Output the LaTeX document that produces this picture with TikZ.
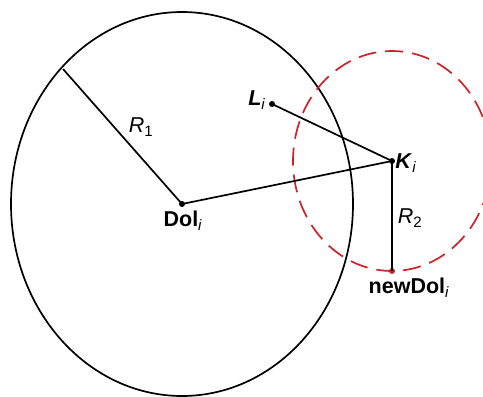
\documentclass[tikz,border=0pt]{standalone}
\usepackage{fontspec}
\setmainfont{Liberation Sans}
\definecolor{dashred}{RGB}{205,35,40}
\begin{document}
\begin{tikzpicture}[x=1pt,y=-1pt,
  ln/.style={line width=1.7pt,black},
  dot/.style={circle,fill=black,inner sep=0pt,minimum size=6pt},
  lbl/.style={inner sep=0pt,font=\fontsize{21.5}{24}\selectfont},
  reddash/.style={line width=1.7pt,draw=dashred,dash pattern=on 18pt off 9pt}]
\useasboundingbox (0,0) rectangle (483,397);
\clip (0,0) rectangle (483,397);
% points
\node[dot] (dol) at (182,204) {};
\node[dot] (k) at (392,161) {};
\node[dot] (l) at (272,104) {};
\node[dot,fill=dashred] (nd) at (392,271) {};
\coordinate (r1end) at (63,69);
% circles
\draw[ln] (dol.center) ellipse [x radius=171, y radius=192];
\draw[reddash] (k.center) ellipse [x radius=99, y radius=110];
% segments
\draw[ln] (dol.center) -- (r1end);
\draw[ln] (dol.center) -- (k.center);
\draw[ln] (l.center) -- (k.center);
\draw[ln] (k.center) -- (nd.center);
% labels
\node[lbl] (tr1) at (141,127) {\textit{R}\textsubscript{1}};
\node[lbl] (tdol) at (183,221) {\textbf{Dol}\textsubscript{\textit{i}}};
\node[lbl] (tl) at (257,100) {\textbf{\textit{L}}\textsubscript{\textit{i}}};
\node[lbl] (tk) at (406,163) {\textbf{\textit{K}}\textsubscript{\textit{i}}};
\node[lbl] (tr2) at (410,218) {\textit{R}\textsubscript{2}};
\node[lbl] (tnd) at (409,288) {\textbf{newDol}\textsubscript{\textit{i}}};
\end{tikzpicture}
\end{document}
